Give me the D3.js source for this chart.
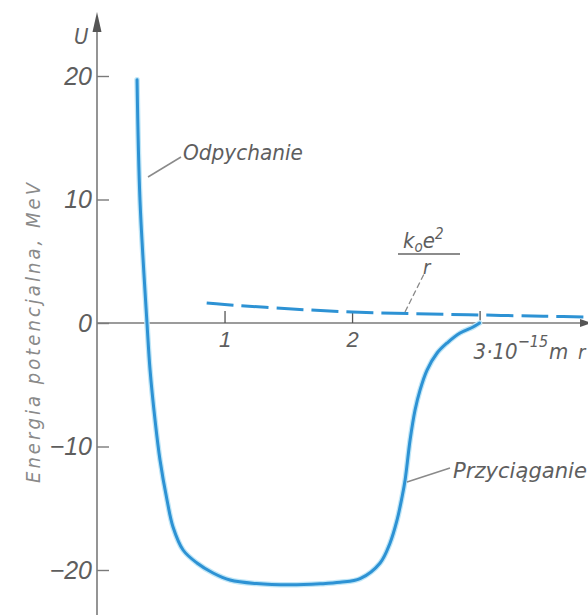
<!DOCTYPE html>
<html>
<head>
<meta charset="utf-8">
<script src="https://cdn.jsdelivr.net/npm/d3@7"></script>
<style>
  html, body { margin: 0; padding: 0; background: #fff; }
  svg { display: block; }
  text { font-family: "Liberation Sans Narrow", "DejaVu Sans Condensed", sans-serif; font-style: italic; fill: #5e5e5e; }
</style>
</head>
<body>
<svg id="chart" width="588" height="615"></svg>
<script>
// ---- data ----
const rSolid = [0.314, 0.337, 0.392, 0.416, 0.455, 0.494, 0.549, 0.596, 0.675, 0.784, 0.91, 1.043, 1.25, 1.514, 1.75, 1.906, 2.063, 2.22, 2.298, 2.353, 2.392, 2.416, 2.455, 2.494, 2.533, 2.588, 2.667, 2.745, 2.847, 2.949, 3.0];
const uSolid = [19.7, 9.96, 0, -3.8, -7.85, -11.09, -14.33, -16.52, -18.38, -19.43, -20.24, -20.81, -21.1, -21.2, -21.12, -21.0, -20.7, -19.43, -17.81, -15.95, -14.09, -12.71, -9.47, -7.04, -5.43, -3.81, -2.43, -1.62, -0.81, -0.32, 0];
const rDashed = [0.86, 1.0, 1.5, 2.0, 2.5, 3.0, 3.5, 3.9];
const uDashed = [1.62, 1.5, 1.15, 0.89, 0.75, 0.65, 0.55, 0.47];
const yTicks = [-20, -10, 0, 10, 20];
const xTicks = [1, 2, 3];
const yTitle = "Energia  potencjalna, MeV";

// ---- scales ----
const svg = d3.select("#chart");
const x = d3.scaleLinear().domain([0, 3.85]).range([97, 588]);
const y = d3.scaleLinear().domain([-20, 20]).range([570, 76]);
const gray = "#7a7a7a";
const blue = "#2d92d4";

// axis lines
svg.append("line").attr("x1", x(0)).attr("x2", x(0)).attr("y1", 18).attr("y2", 615)
  .attr("stroke", gray).attr("stroke-width", 1.6);
svg.append("line").attr("x1", x(0)).attr("x2", 586).attr("y1", y(0)).attr("y2", y(0))
  .attr("stroke", gray).attr("stroke-width", 1.6);
// arrows
svg.append("path").attr("d", `M${x(0)},12 L${x(0)-4.5},32 L${x(0)+4.5},32 Z`).attr("fill", "#555");
svg.append("path").attr("d", `M592,${y(0)} L580,${y(0)-4} L580,${y(0)+4} Z`).attr("fill", "#555");

// y axis
const yAxis = d3.axisLeft(y).tickValues(yTicks).tickSizeInner(-12).tickSizeOuter(0).tickPadding(5);
const gy = svg.append("g").attr("transform", `translate(${x(0)},0)`).call(yAxis);
gy.select(".domain").remove();
gy.selectAll(".tick line").attr("stroke", gray).attr("stroke-width", 1.4);
gy.selectAll(".tick text").attr("font-size", 25).attr("fill", "#5e5e5e")
  .style("font-family", '"Liberation Sans Narrow", sans-serif').style("font-style", "italic");

// x axis
const xAxis = d3.axisBottom(x).tickValues(xTicks).tickSizeInner(-12).tickSizeOuter(0).tickPadding(20)
  .tickFormat(d => d === 3 ? "" : String(d));
const gx = svg.append("g").attr("transform", `translate(0,${y(0)})`).call(xAxis);
gx.select(".domain").remove();
gx.selectAll(".tick line").attr("stroke", "#555").attr("stroke-width", 1.3);
gx.selectAll(".tick text").attr("font-size", 22).attr("fill", "#5e5e5e").attr("dy", "0.2em")
  .style("font-family", '"Liberation Sans Narrow", sans-serif').style("font-style", "italic");

// special label for 3·10^-15 m
const t3 = svg.append("text").attr("x", x(3) - 6).attr("y", y(0) + 36).attr("font-size", 22);
t3.append("tspan").text("3·10");
t3.append("tspan").attr("dy", -12).attr("font-size", 16).text("−15");
t3.append("tspan").attr("dy", 12).attr("dx", 1).text("m");
svg.append("text").attr("x", 578).attr("y", y(0) + 36).attr("font-size", 20).text("r");

// U label
svg.append("text").attr("x", 74).attr("y", 44).attr("font-size", 22).text("U");

// y title
svg.append("text")
  .attr("transform", `translate(40,${(183 + 483) / 2}) rotate(-90)`)
  .attr("text-anchor", "middle").attr("font-size", 20)
  .attr("textLength", 300).attr("lengthAdjust", "spacing")
  .style("fill", "#8a8a8a")
  .text(yTitle);

// curves
const solid = rSolid.map((r, i) => [r, uSolid[i]]);
const dashed = rDashed.map((r, i) => [r, uDashed[i]]);
const line = d3.line().x(d => x(d[0])).y(d => y(d[1])).curve(d3.curveCatmullRom.alpha(0.5));

svg.append("path").datum(solid).attr("d", line).attr("fill", "none")
  .attr("stroke", "#bfe6f7").attr("stroke-width", 5.5).attr("stroke-linecap", "round");
svg.append("path").datum(solid).attr("d", line).attr("fill", "none")
  .attr("stroke", blue).attr("stroke-width", 3).attr("stroke-linecap", "round");
svg.append("path").datum(dashed).attr("d", line).attr("fill", "none")
  .attr("stroke", blue).attr("stroke-width", 3).attr("stroke-dasharray", "27,8");

// annotations
svg.append("line").attr("x1", 148).attr("y1", 177).attr("x2", 181).attr("y2", 157)
  .attr("stroke", "#8a8a8a").attr("stroke-width", 1.5);
svg.append("text").attr("x", 183).attr("y", 160).attr("font-size", 22)
  .attr("textLength", 120).attr("lengthAdjust", "spacingAndGlyphs").text("Odpychanie");

svg.append("line").attr("x1", 407).attr("y1", 482).attr("x2", 450).attr("y2", 468)
  .attr("stroke", "#8a8a8a").attr("stroke-width", 1.5);
svg.append("text").attr("x", 453).attr("y", 478).attr("font-size", 22)
  .attr("textLength", 134).attr("lengthAdjust", "spacingAndGlyphs").text("Przyciąganie");

// k0 e^2 / r
const kt = svg.append("text").attr("x", 403).attr("y", 248).attr("font-size", 22);
kt.append("tspan").text("k");
kt.append("tspan").attr("dy", 4).attr("font-size", 15).text("o");
kt.append("tspan").attr("dy", -4).text("e");
kt.append("tspan").attr("dy", -9).attr("font-size", 15).text("2");
svg.append("line").attr("x1", 398).attr("x2", 460).attr("y1", 254).attr("y2", 254)
  .attr("stroke", "#666").attr("stroke-width", 1.5);
svg.append("text").attr("x", 423).attr("y", 274).attr("font-size", 20).text("r");
svg.append("line").attr("x1", 405).attr("y1", 312).attr("x2", 425).attr("y2", 272)
  .attr("stroke", "#8a8a8a").attr("stroke-width", 1.3).attr("stroke-dasharray", "6,3");
</script>
</body>
</html>
